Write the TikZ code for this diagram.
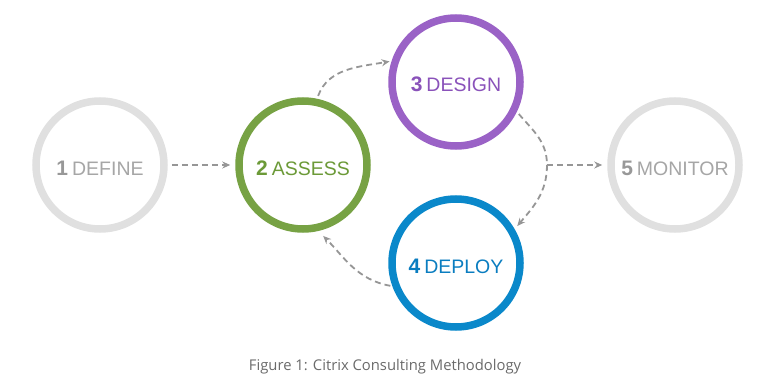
\documentclass[tikz,border=0pt]{standalone}
\usepackage{fontspec}
\setmainfont{Liberation Sans}
\newfontfamily\capfont{Open Sans}
\usetikzlibrary{arrows.meta}
\definecolor{ringgray}{HTML}{E0E0E0}
\definecolor{txtgray}{HTML}{A6A6A6}
\definecolor{numgray}{HTML}{989898}
\definecolor{ringgreen}{HTML}{77A244}
\definecolor{txtgreen}{HTML}{6C9A38}
\definecolor{ringpurple}{HTML}{9A62C6}
\definecolor{txtpurple}{HTML}{8A52BA}
\definecolor{ringblue}{HTML}{0A88CA}
\definecolor{txtblue}{HTML}{0A7DC0}
\definecolor{arrowgray}{HTML}{969696}
\definecolor{capgray}{HTML}{6A6A6A}
\tikzset{
  ring/.style={circle, draw=#1, line width=7.5pt, minimum size=128pt, inner sep=0pt, fill=white},
  flow/.style={draw=arrowgray, line width=1.8pt, dash pattern=on 6pt off 4pt,
    -{Stealth[length=8pt,width=7pt]}},
  plain/.style={draw=arrowgray, line width=1.8pt, dash pattern=on 6pt off 4pt},
}
\newcommand{\stagelabel}[3]{\raisebox{-10pt}[0pt][0pt]{\textcolor{#1}{\fontsize{21}{21}\selectfont\bfseries #2}\hspace{4pt}{\fontsize{19.5}{19.5}\selectfont #3}}}
\begin{document}
\begin{tikzpicture}[x=1pt,y=1pt]
\useasboundingbox (0,0) rectangle (758,-385);
\node[ring=ringgray, text=txtgray] (c1) at (100,-165) {\stagelabel{numgray}{1}{DEFINE}};
\node[ring=ringgreen, text=txtgreen] (c2) at (303,-165) {\stagelabel{txtgreen}{2}{ASSESS}};
\node[ring=ringpurple, text=txtpurple] (c3) at (456,-82) {\stagelabel{txtpurple}{3}{DESIGN}};
\node[ring=ringblue, text=txtblue] (c4) at (456,-263) {\stagelabel{txtblue}{4}{DEPLOY}};
\node[ring=ringgray, text=txtgray] (c5) at (675,-165) {\stagelabel{numgray}{5}{MONITOR}};
\coordinate (m) at (547,-165);
\path[flow, shorten <=4pt, shorten >=5pt] (c1.east) -- (c2.west);
\path[flow, shorten <=3pt, shorten >=2pt] (c2.78) to[out=70, in=190] (c3.162);
\path[plain, shorten <=3pt] (c3.-26) to[out=-50, in=90] (m);
\path[flow, shorten >=4pt] (m) to[out=-90, in=50] (c4.30);
\path[flow, shorten >=5pt] (m) -- (c5.west);
\path[flow, shorten <=2pt, shorten >=7pt] (c4.200) to[out=170, in=-45] (c2.-77);
\node[font=\capfont\fontsize{14.8}{15}\selectfont, text=capgray] (cap) at (385,-367) {Figure 1: Citrix Consulting Methodology};
\end{tikzpicture}
\end{document}
